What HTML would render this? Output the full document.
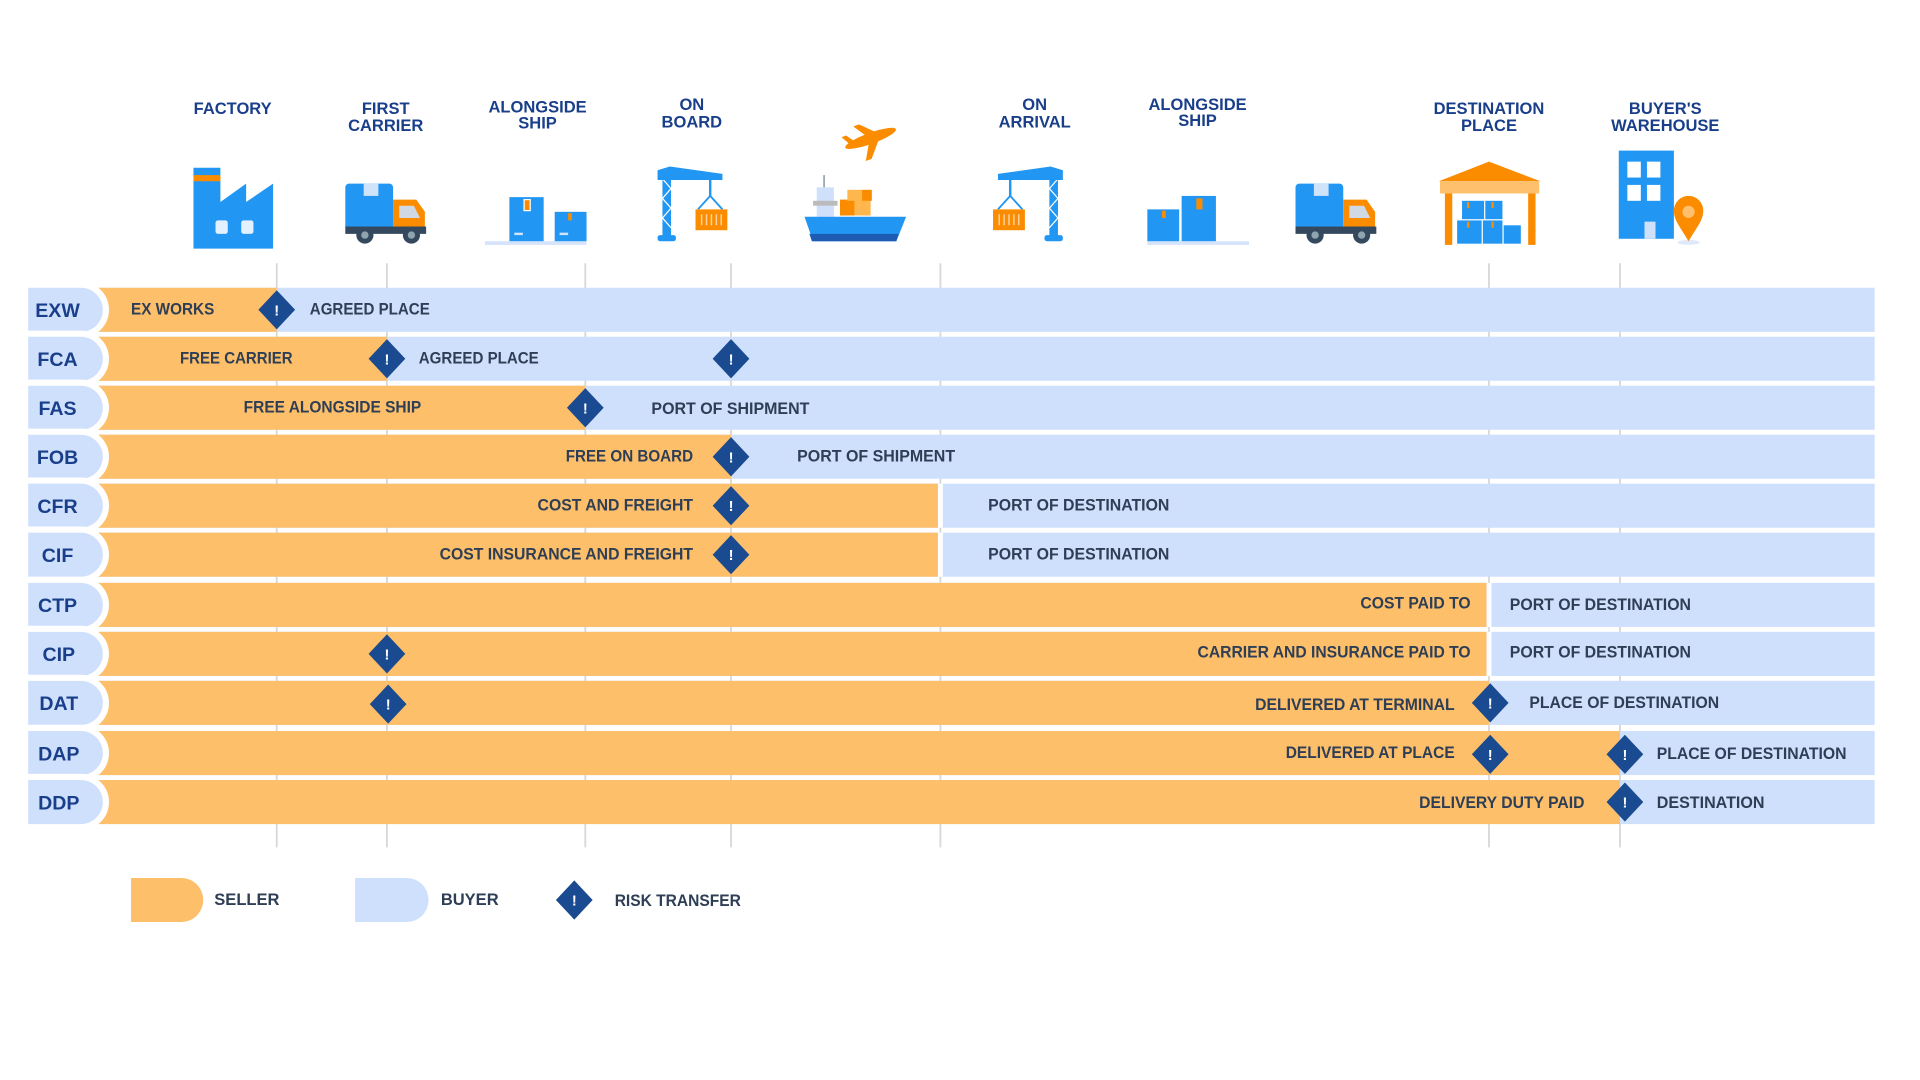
<!DOCTYPE html>
<html><head><meta charset="utf-8"><style>
html,body{margin:0;padding:0;background:#fff;width:1920px;height:1080px;overflow:hidden}
svg{display:block}
.t{font-family:"Liberation Sans Narrow","Liberation Sans",sans-serif;font-weight:bold;font-size:13.5px;fill:#2e3e55}
.h{font-family:"Liberation Sans Narrow","Liberation Sans",sans-serif;font-weight:bold;font-size:13.5px;fill:#1a3f8a;text-anchor:middle}
.l{font-family:"Liberation Sans",sans-serif;font-weight:bold;font-size:16px;fill:#1a3f8a;text-anchor:middle}
.x{font-family:"Liberation Sans",sans-serif;font-weight:bold;font-size:12px;fill:#fff;text-anchor:middle}
</style></head><body>
<svg width="1920" height="1080" viewBox="0 0 1568 882" xmlns="http://www.w3.org/2000/svg">
<rect width="1568" height="882" fill="#fff"/>
<!-- headers -->
<text class="h" x="190" y="93">FACTORY</text>
<text class="h" x="315" y="93">FIRST</text><text class="h" x="315" y="107">CARRIER</text>
<text class="h" x="439" y="92">ALONGSIDE</text><text class="h" x="439" y="105">SHIP</text>
<text class="h" x="565" y="90">ON</text><text class="h" x="565" y="104">BOARD</text>
<text class="h" x="845" y="90">ON</text><text class="h" x="845" y="104">ARRIVAL</text>
<text class="h" x="978" y="90">ALONGSIDE</text><text class="h" x="978" y="103">SHIP</text>
<text class="h" x="1216" y="93">DESTINATION</text><text class="h" x="1216" y="107">PLACE</text>
<text class="h" x="1360" y="93">BUYER'S</text><text class="h" x="1360" y="107">WAREHOUSE</text>

<!-- factory -->
<polygon points="158,203 158,137 180,137 180,165 201,150 201,165 223,150 223,203" fill="#2196f3"/>
<rect x="158" y="143" width="22" height="5" fill="#fb8c00"/>
<rect x="176" y="180" width="10" height="11" rx="2" fill="#e3f0ff"/><rect x="197" y="180" width="10" height="11" rx="2" fill="#e3f0ff"/>
<!-- truck -->
<g id="truck">
<rect x="282" y="150" width="39" height="38" rx="3" fill="#2196f3"/>
<rect x="297" y="150" width="12" height="10" fill="#cfe3fb"/>
<path d="M321,163 h19 l7,10 v17 h-26z" fill="#fb8c00"/>
<path d="M326,168 h12 l5,10 h-17z" fill="#cfd8e3"/>
<rect x="282" y="185" width="66" height="6" fill="#34495e"/>
<circle cx="298" cy="192" r="7" fill="#34495e"/><circle cx="298" cy="192" r="3" fill="#90a4ae"/>
<circle cx="336" cy="192" r="7" fill="#34495e"/><circle cx="336" cy="192" r="3" fill="#90a4ae"/>
</g>
<use href="#truck" transform="translate(776,0)"/>
<!-- boxes -->
<g id="boxes">
<rect x="396" y="197" width="83" height="3" fill="#d6e4fb"/>
<rect x="416" y="161" width="28" height="36" fill="#2196f3"/>
<rect x="428" y="163" width="5" height="9" fill="#fb8c00" stroke="#fff" stroke-width="1"/>
<rect x="453" y="173" width="26" height="24" fill="#2196f3"/>
<rect x="464" y="174" width="3" height="6" fill="#fb8c00"/>
<rect x="420" y="190" width="7" height="2" fill="#cfe3fb"/><rect x="457" y="190" width="7" height="2" fill="#cfe3fb"/>
</g>
<g transform="translate(541,0)">
<rect x="396" y="197" width="83" height="3" fill="#d6e4fb"/>
<rect x="396" y="171" width="26" height="26" fill="#2196f3"/>
<rect x="408" y="172" width="3" height="6" fill="#fb8c00"/>
<rect x="424" y="160" width="28" height="37" fill="#2196f3"/>
<rect x="436" y="162" width="5" height="9" fill="#fb8c00"/>
</g>
<!-- crane left -->
<g id="crane">
<rect x="541" y="140" width="7" height="54" fill="#2196f3"/>
<path d="M541,146 l7,8 l-7,8 l7,8 l-7,8 l7,8" stroke="#fff" stroke-width="1" fill="none"/>
<path d="M537,139 l10,-3 l43,6 v5 h-53z" fill="#2196f3"/>
<rect x="537" y="192" width="15" height="5" rx="2" fill="#2196f3"/>
<line x1="580" y1="147" x2="580" y2="160" stroke="#2196f3" stroke-width="2"/>
<path d="M570,171 l10,-11 l10,11" stroke="#2196f3" stroke-width="1.5" fill="none"/>
<rect x="568" y="171" width="26" height="17" fill="#fb8c00"/>
<path d="M573,175v9M577,175v9M581,175v9M585,175v9M589,175v9" stroke="#ffd3a0" stroke-width="1.2"/>
</g>
<g transform="translate(1405,0) scale(-1,1)"><use href="#crane"/></g>
<!-- ship -->
<line x1="673" y1="143" x2="673" y2="154" stroke="#9ab" stroke-width="1.5"/>
<rect x="667" y="153" width="14" height="24" fill="#cfe0fb"/>
<rect x="664" y="164" width="20" height="4" fill="#bbb"/>
<rect x="686" y="163" width="12" height="13" fill="#fb8c00"/><rect x="698" y="163" width="13" height="13" fill="#ffb74d"/>
<rect x="692" y="155" width="12" height="9" fill="#ffb74d"/><rect x="704" y="155" width="8" height="9" fill="#fb8c00"/>
<path d="M657,177 h83 l-8,20 h-68z" fill="#2196f3"/>
<path d="M661,191 h73 l-2,6 h-69z" fill="#1e5cb3"/>
<!-- plane -->
<g transform="translate(711,113) rotate(-20)">
<ellipse cx="0" cy="0" rx="22" ry="4.5" fill="#fb8c00"/>
<path d="M-2,-2 l-8,-12 h5 l12,12z M-2,2 l-8,14 h5 l12,-14z M-18,-2 l-4,-7 h4 l5,7z" fill="#fb8c00"/>
</g>
<!-- warehouse -->
<polygon points="1175,148 1216,132 1258,148" fill="#fb8c00"/>
<rect x="1176" y="148" width="81" height="10" fill="#ffc06e"/>
<rect x="1180" y="158" width="6" height="42" fill="#fb8c00"/><rect x="1248" y="158" width="6" height="42" fill="#fb8c00"/>
<rect x="1194" y="164" width="18" height="15" fill="#2196f3"/><rect x="1213" y="164" width="14" height="15" fill="#2196f3"/>
<rect x="1190" y="180" width="20" height="19" fill="#2196f3"/><rect x="1211" y="180" width="16" height="19" fill="#2196f3"/><rect x="1228" y="184" width="14" height="15" fill="#2196f3"/>
<rect x="1198" y="165" width="2" height="5" fill="#fb8c00"/><rect x="1218" y="165" width="2" height="5" fill="#fb8c00"/><rect x="1198" y="181" width="2" height="5" fill="#fb8c00"/><rect x="1218" y="181" width="2" height="5" fill="#fb8c00"/>
<!-- building -->
<rect x="1322" y="123" width="45" height="72" fill="#2196f3"/>
<rect x="1329" y="132" width="11" height="13" fill="#fff"/><rect x="1345" y="132" width="11" height="13" fill="#fff"/>
<rect x="1329" y="151" width="11" height="13" fill="#fff"/><rect x="1345" y="151" width="11" height="13" fill="#fff"/>
<rect x="1343" y="181" width="9" height="14" fill="#cfe0fb"/>
<ellipse cx="1379" cy="198" rx="9" ry="2" fill="#dfe9fb"/>
<path d="M1379,197 C1372,185 1367,180 1367,172 A12,12 0 0 1 1391,172 C1391,180 1386,185 1379,197z" fill="#fb8c00"/>
<circle cx="1379" cy="173" r="5" fill="#ffc06e"/>

<!-- vertical lines -->
<g stroke="#d8d8d8" stroke-width="1.5">
<line x1="226" y1="215" x2="226" y2="692"/><line x1="316" y1="215" x2="316" y2="692"/>
<line x1="478" y1="215" x2="478" y2="692"/><line x1="597" y1="215" x2="597" y2="692"/>
<line x1="768" y1="215" x2="768" y2="692"/><line x1="1216" y1="215" x2="1216" y2="692"/>
<line x1="1323" y1="215" x2="1323" y2="692"/>
</g>

<defs>
<g id="dm"><polygon points="0,-16 15,0 0,16 -15,0" fill="#1a4a8f"/><text class="x" x="0" y="4.5">!</text></g>
</defs>

<!-- rows: y top, seller end, gap -->
<g>
<!-- EXW -->
<rect x="80" y="235" width="1451" height="36" fill="#cfe0fd"/>
<rect x="80" y="235" width="146" height="36" fill="#fdbf6a"/>
<!-- FCA -->
<rect x="80" y="275" width="1451" height="36" fill="#cfe0fd"/>
<rect x="80" y="275" width="236" height="36" fill="#fdbf6a"/>
<!-- FAS -->
<rect x="80" y="315" width="1451" height="36" fill="#cfe0fd"/>
<rect x="80" y="315" width="398" height="36" fill="#fdbf6a"/>
<!-- FOB -->
<rect x="80" y="355" width="1451" height="36" fill="#cfe0fd"/>
<rect x="80" y="355" width="517" height="36" fill="#fdbf6a"/>
<!-- CFR -->
<rect x="80" y="395" width="1451" height="36" fill="#cfe0fd"/>
<rect x="80" y="395" width="686" height="36" fill="#fdbf6a"/>
<rect x="766" y="395" width="4" height="36" fill="#fff"/>
<!-- CIF -->
<rect x="80" y="435" width="1451" height="36" fill="#cfe0fd"/>
<rect x="80" y="435" width="686" height="36" fill="#fdbf6a"/>
<rect x="766" y="435" width="4" height="36" fill="#fff"/>
<!-- CTP -->
<rect x="80" y="476" width="1451" height="36" fill="#cfe0fd"/>
<rect x="80" y="476" width="1134" height="36" fill="#fdbf6a"/>
<rect x="1214" y="476" width="4" height="36" fill="#fff"/>
<!-- CIP -->
<rect x="80" y="516" width="1451" height="36" fill="#cfe0fd"/>
<rect x="80" y="516" width="1134" height="36" fill="#fdbf6a"/>
<rect x="1214" y="516" width="4" height="36" fill="#fff"/>
<!-- DAT -->
<rect x="80" y="556" width="1451" height="36" fill="#cfe0fd"/>
<rect x="80" y="556" width="1136" height="36" fill="#fdbf6a"/>
<!-- DAP -->
<rect x="80" y="597" width="1451" height="36" fill="#cfe0fd"/>
<rect x="80" y="597" width="1243" height="36" fill="#fdbf6a"/>
<!-- DDP -->
<rect x="80" y="637" width="1451" height="36" fill="#cfe0fd"/>
<rect x="80" y="637" width="1243" height="36" fill="#fdbf6a"/>
</g>

<!-- label pills -->
<g fill="#cfe0fd" stroke="#fff" stroke-width="5">
<path d="M20,232.5 h46 a20.5,20.5 0 0 1 0,41 h-46z"/>
<path d="M20,272.5 h46 a20.5,20.5 0 0 1 0,41 h-46z"/>
<path d="M20,312.5 h46 a20.5,20.5 0 0 1 0,41 h-46z"/>
<path d="M20,352.5 h46 a20.5,20.5 0 0 1 0,41 h-46z"/>
<path d="M20,392.5 h46 a20.5,20.5 0 0 1 0,41 h-46z"/>
<path d="M20,432.5 h46 a20.5,20.5 0 0 1 0,41 h-46z"/>
<path d="M20,473.5 h46 a20.5,20.5 0 0 1 0,41 h-46z"/>
<path d="M20,513.5 h46 a20.5,20.5 0 0 1 0,41 h-46z"/>
<path d="M20,553.5 h46 a20.5,20.5 0 0 1 0,41 h-46z"/>
<path d="M20,594.5 h46 a20.5,20.5 0 0 1 0,41 h-46z"/>
<path d="M20,634.5 h46 a20.5,20.5 0 0 1 0,41 h-46z"/>
</g>
<rect x="16" y="230" width="7" height="450" fill="#fff"/>
<text class="l" x="47" y="259">EXW</text>
<text class="l" x="47" y="299">FCA</text>
<text class="l" x="47" y="339">FAS</text>
<text class="l" x="47" y="379">FOB</text>
<text class="l" x="47" y="419">CFR</text>
<text class="l" x="47" y="459">CIF</text>
<text class="l" x="47" y="500">CTP</text>
<text class="l" x="48" y="540">CIP</text>
<text class="l" x="48" y="580">DAT</text>
<text class="l" x="48" y="621">DAP</text>
<text class="l" x="48" y="661">DDP</text>

<!-- bar texts -->
<g class="t">
<text class="t" x="107" y="257" textLength="68" lengthAdjust="spacingAndGlyphs">EX WORKS</text>
<text class="t" x="253" y="257" textLength="98" lengthAdjust="spacingAndGlyphs">AGREED PLACE</text>
<text class="t" x="147" y="297" textLength="92" lengthAdjust="spacingAndGlyphs">FREE CARRIER</text>
<text class="t" x="342" y="297" textLength="98" lengthAdjust="spacingAndGlyphs">AGREED PLACE</text>
<text class="t" x="199" y="337" textLength="145" lengthAdjust="spacingAndGlyphs">FREE ALONGSIDE SHIP</text>
<text class="t" x="532" y="338" textLength="129" lengthAdjust="spacingAndGlyphs">PORT OF SHIPMENT</text>
<text class="t" x="462" y="377" textLength="104" lengthAdjust="spacingAndGlyphs">FREE ON BOARD</text>
<text class="t" x="651" y="377" textLength="129" lengthAdjust="spacingAndGlyphs">PORT OF SHIPMENT</text>
<text class="t" x="439" y="417" textLength="127" lengthAdjust="spacingAndGlyphs">COST AND FREIGHT</text>
<text class="t" x="807" y="417" textLength="148" lengthAdjust="spacingAndGlyphs">PORT OF DESTINATION</text>
<text class="t" x="359" y="457" textLength="207" lengthAdjust="spacingAndGlyphs">COST INSURANCE AND FREIGHT</text>
<text class="t" x="807" y="457" textLength="148" lengthAdjust="spacingAndGlyphs">PORT OF DESTINATION</text>
<text class="t" x="1111" y="497" textLength="90" lengthAdjust="spacingAndGlyphs">COST PAID TO</text>
<text class="t" x="1233" y="498" textLength="148" lengthAdjust="spacingAndGlyphs">PORT OF DESTINATION</text>
<text class="t" x="978" y="537" textLength="223" lengthAdjust="spacingAndGlyphs">CARRIER AND INSURANCE PAID TO</text>
<text class="t" x="1233" y="537" textLength="148" lengthAdjust="spacingAndGlyphs">PORT OF DESTINATION</text>
<text class="t" x="1025" y="580" textLength="163" lengthAdjust="spacingAndGlyphs">DELIVERED AT TERMINAL</text>
<text class="t" x="1249" y="578" textLength="155" lengthAdjust="spacingAndGlyphs">PLACE OF DESTINATION</text>
<text class="t" x="1050" y="619" textLength="138" lengthAdjust="spacingAndGlyphs">DELIVERED AT PLACE</text>
<text class="t" x="1353" y="620" textLength="155" lengthAdjust="spacingAndGlyphs">PLACE OF DESTINATION</text>
<text class="t" x="1159" y="660" textLength="135" lengthAdjust="spacingAndGlyphs">DELIVERY DUTY PAID</text>
<text class="t" x="1353" y="660" textLength="88" lengthAdjust="spacingAndGlyphs">DESTINATION</text>
</g>

<!-- diamonds -->
<use href="#dm" x="226" y="253"/>
<use href="#dm" x="316" y="293"/><use href="#dm" x="597" y="293"/>
<use href="#dm" x="478" y="333"/>
<use href="#dm" x="597" y="373"/>
<use href="#dm" x="597" y="413"/>
<use href="#dm" x="597" y="453"/>
<use href="#dm" x="316" y="534"/>
<use href="#dm" x="317" y="575"/><use href="#dm" x="1217" y="574"/>
<use href="#dm" x="1217" y="616"/><use href="#dm" x="1327" y="616"/>
<use href="#dm" x="1327" y="655"/>

<!-- legend -->
<path d="M107,717 h41 a18,18 0 0 1 0,36 h-41z" fill="#fdbf6a"/>
<text class="t" x="175" y="739">SELLER</text>
<path d="M290,717 h42 a18,18 0 0 1 0,36 h-42z" fill="#cfe0fd"/>
<text class="t" x="360" y="739">BUYER</text>
<use href="#dm" x="469" y="735"/>
<text class="t" x="502" y="740" textLength="103" lengthAdjust="spacingAndGlyphs">RISK TRANSFER</text>
</svg>
</body></html>
